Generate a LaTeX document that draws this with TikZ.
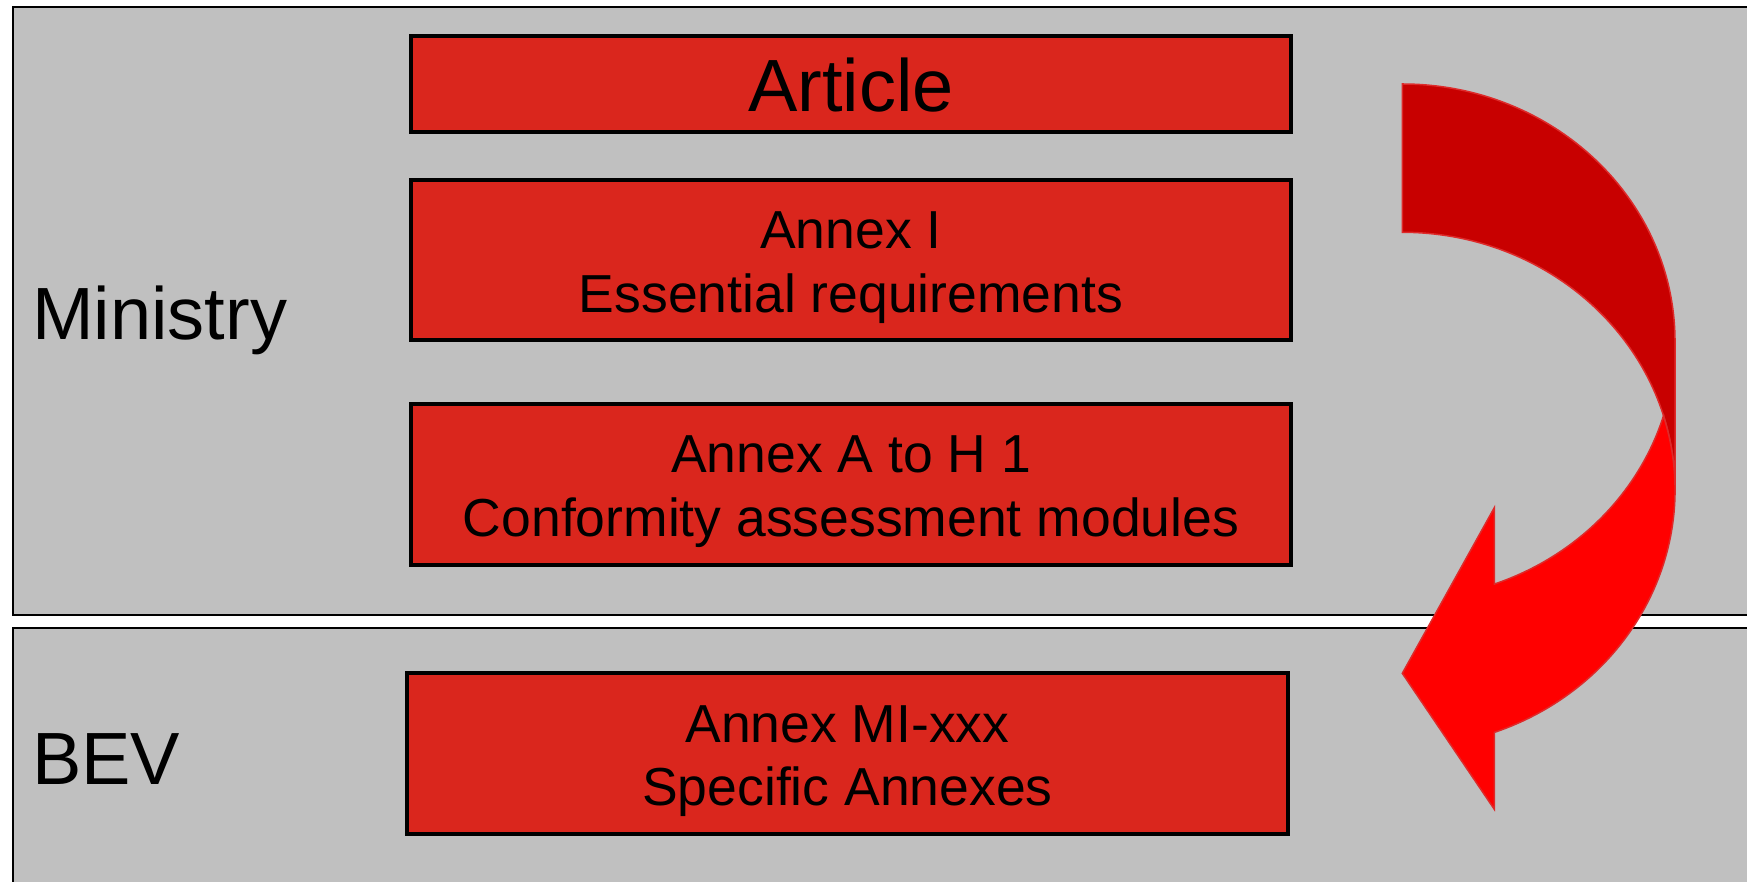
\documentclass[tikz,border=0pt]{standalone}
\usepackage{fontspec}
\setmainfont{Liberation Sans}
\definecolor{panelgray}{RGB}{192,192,192}
\definecolor{boxred}{RGB}{218,38,29}
\definecolor{arrowdark}{RGB}{200,0,0}
\definecolor{arrowbright}{RGB}{255,0,0}
\definecolor{arrowline}{RGB}{222,42,42}
\tikzset{
  panel/.style={draw=black, line width=2.6pt, fill=panelgray, inner sep=0pt, outer sep=0pt},
  redbox/.style={draw=black, line width=3.2pt, fill=boxred, inner sep=0pt, outer sep=0pt},
  bigtext/.style={font=\fontsize{74}{89}\selectfont, inner sep=0pt, text=black},
  midtext/.style={font=\fontsize{53.5}{63.7}\selectfont, align=center, inner sep=0pt, text=black},
  backband/.style={fill=arrowdark, draw=arrowline, line width=1.5pt, line join=miter},
  frontband/.style={fill=arrowbright, draw=arrowline, line width=1.5pt, line join=miter},
}
\begin{document}
\begin{tikzpicture}[x=1pt,y=1pt]
\useasboundingbox (0,0) rectangle (1747,881);
\clip (0,0) rectangle (1747,881);
% panels
\node[panel, anchor=north west, minimum width=1760pt, minimum height=608pt] (ministrypanel) at (13,874) {};
\node[panel, anchor=north west, minimum width=1760pt, minimum height=275pt] (bevpanel) at (13,253) {};
% red boxes
\node[redbox, anchor=north west, minimum width=880pt, minimum height=96pt] (article) at (411,845) {};
\node[redbox, anchor=north west, minimum width=880pt, minimum height=160pt] (annexI) at (411,701) {};
\node[redbox, anchor=north west, minimum width=880pt, minimum height=161pt] (annexA) at (411,477) {};
\node[redbox, anchor=north west, minimum width=881pt, minimum height=161pt] (annexMI) at (407,208) {};
% texts (base anchor = baseline of the last line)
\node[bigtext, anchor=base] (articletext) at (851,769) {Article};
\node[midtext, anchor=base] (annexItext) at (851,568.3) {Annex I\\Essential requirements};
\node[midtext, anchor=base] (annexAtext) at (851,344.3) {Annex A to H 1\\Conformity assessment modules};
\node[midtext, anchor=base] (annexMItext) at (847.5,75.3) {Annex MI-xxx\\Specific Annexes};
\node[bigtext, anchor=base west] (ministrylabel) at (32,541) {Ministry};
\node[bigtext, anchor=base west] (bevlabel) at (32,97) {BEV};
% curved arrow: back band
\path[backband] (1402.3,797) arc[start angle=90, end angle=0, x radius=272.7pt, y radius=257.6pt]
  -- (1675,391.1) arc[start angle=0, end angle=90, x radius=272.7pt, y radius=257.6pt] -- cycle;
% curved arrow: front band with head
\path[frontband] (1663.5,465.25) arc[start angle=-16.73, end angle=-70.28, x radius=272.7pt, y radius=257.6pt]
  -- (1494.3,373.3) -- (1402.3,207.7) -- (1494.3,71.7) -- (1494.3,148.6)
  arc[start angle=-70.28, end angle=16.73, x radius=272.7pt, y radius=257.6pt] -- cycle;
\end{tikzpicture}
\end{document}
